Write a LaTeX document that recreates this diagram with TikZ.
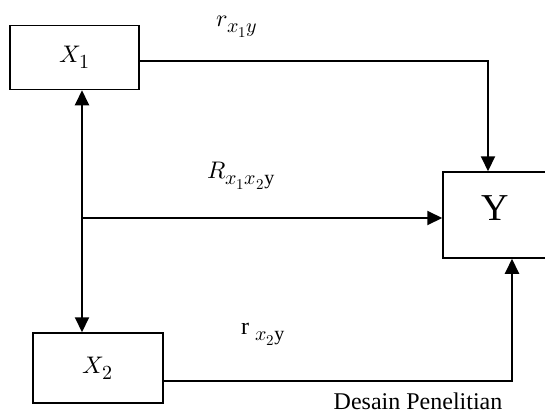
\documentclass[tikz,border=0pt]{standalone}
\usepackage{amsmath}
\usepackage{fontspec}
\usepackage{unicode-math}
\setmainfont{Liberation Serif}
\setmathfont{Latin Modern Math}
\usetikzlibrary{arrows.meta,positioning}
\DeclareMathSizes{24}{24}{20}{15}
\newcommand\lblfont{\fontsize{24}{28}\selectfont}
\newcommand\bigfont{\fontsize{38}{40}\selectfont}
\newcommand\capfont{\fontsize{24}{28}\selectfont}
\tikzset{
  box/.style={rectangle, draw, line width=1.5pt, inner sep=0pt, font=\lblfont},
  arr/.style={-{Triangle[length=15pt,width=14pt]}, line width=2pt},
  dblarr/.style={{Triangle[length=15pt,width=14pt]}-{Triangle[length=15pt,width=14pt]}, line width=2pt},
  lbl/.style={font=\lblfont, inner sep=0pt}
}
\begin{document}
\begin{tikzpicture}[x=1pt,y=-1pt]
\useasboundingbox (0,0) rectangle (545,415);
\node[box, minimum width=129pt, minimum height=64pt] (x1) at (74.5,57.5) {$X_1$};
\node[box, minimum width=130pt, minimum height=70pt] (x2) at (98,368) {$X_2$};
\node[box, minimum width=105pt, minimum height=86pt, font=\bigfont] (y) at (495.5,215) {\raisebox{13pt}{Y}};
\coordinate (mid) at (82,218);
% labels
\node[lbl] (rx1y) at (237,27) {$r_{x_1y}$};
\node[lbl] (rx1x2y) at (241,176) {$R_{x_1x_2\mathrm{y}}$};
\node[lbl] (rx2y) at (263,334) {r $_{x_2\mathrm{y}}$};
\node[font=\capfont, inner sep=0pt] (cap) at (418,401) {Desain Penelitian};
% connectors
\draw[arr] ([yshift=-3.5pt]x1.east) -| ([xshift=-7.5pt]y.north);
\draw[dblarr] (x1.south -| mid) -- (x2.north -| mid);
\draw[arr] (mid) -- (mid -| y.west);
\draw[arr] ([yshift=-13pt]x2.east) -| ([xshift=16.5pt]y.south);
\end{tikzpicture}
\end{document}
